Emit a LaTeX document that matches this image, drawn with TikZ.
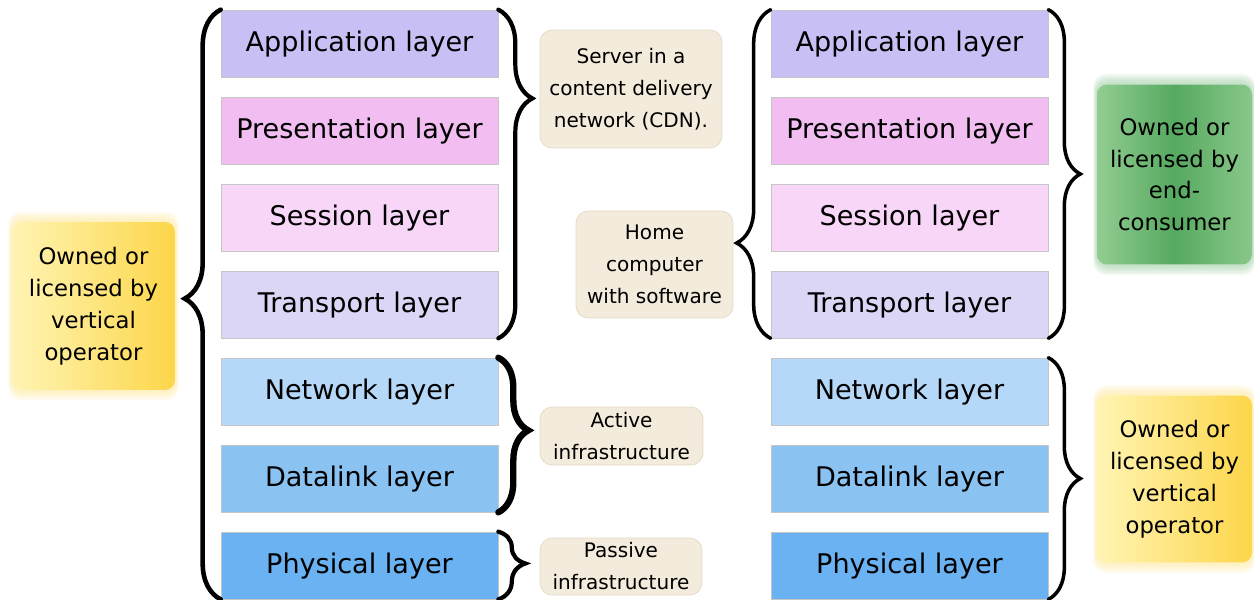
\documentclass[tikz,border=0pt]{standalone}
\usepackage{fontspec}
\setmainfont{DejaVu Sans}
\usetikzlibrary{decorations.pathreplacing,backgrounds}

\definecolor{appcol}{HTML}{C8C0F4}
\definecolor{prescol}{HTML}{F2BEF2}
\definecolor{sesscol}{HTML}{F8D6F8}
\definecolor{transcol}{HTML}{DCD6F6}
\definecolor{netcol}{HTML}{B6D8F8}
\definecolor{linkcol}{HTML}{8AC2F2}
\definecolor{physcol}{HTML}{6AB2F2}
\definecolor{notecol}{HTML}{F3EBDC}
\definecolor{noteline}{HTML}{E2D9C6}
\definecolor{goldlight}{HTML}{FFF4B4}
\definecolor{golddark}{HTML}{FCD64A}
\definecolor{greenlight}{HTML}{92CD92}
\definecolor{greendark}{HTML}{56A960}

\tikzset{layer/.style={draw=gray!45, minimum width=5.54cm, minimum height=1.34cm,
   inner sep=0pt, text height=11.6pt, text depth=2pt, font=\fontsize{15.4}{18}\selectfont},
 note/.style={draw=noteline, fill=notecol, rounded corners=0.24cm, align=center,
   inner sep=0pt, font=\fontsize{11.4}{18.2}\selectfont},
 owner/.style={align=center, inner sep=0pt, rounded corners=0.2cm,
   font=\fontsize{12.95}{18.2}\selectfont},
 brace/.style={decorate, line width=2pt, line cap=round, decoration={brace, #1}},
 brace/.default={},
 }

\begin{document}
\begin{tikzpicture}[x=0.02cm, y=-0.02cm]
    \useasboundingbox (0,0) rectangle (1254,599);
    % the two stacks of layers
    \foreach \txt/\col [count=\i] in {Application/appcol, Presentation/prescol,
        Session/sesscol, Transport/transcol, Network/netcol, Datalink/linkcol, Physical/physcol} {
        \node[layer, fill=\col] (L\i) at (359.5, {43.5+87*(\i-1)}) {\txt\ layer};
        \node[layer, fill=\col] (R\i) at (909.5, {43.5+87*(\i-1)}) {\txt\ layer};
    }

    % notes between the stacks
    \node[note, minimum width=3.64cm, minimum height=2.36cm] (cdn) at (631, 89)
        {Server in a\\content delivery\\network (CDN).};
    \node[note, minimum width=3.14cm, minimum height=2.14cm] (home) at (654.5, 264.5)
        {Home\\computer\\with software};
    \node[note, minimum width=3.26cm, minimum height=1.16cm] (active) at (621.5, 436)
        {Active\\infrastructure};
    \node[note, minimum width=3.24cm, minimum height=1.14cm] (passive) at (621, 566.5)
        {Passive\\infrastructure};

    % owners
    \node[owner, minimum width=3.26cm, minimum height=3.36cm, left color=goldlight, right color=golddark]
        (ownvert) at (93.5, 306) {Owned or\\licensed by\\vertical\\operator};
    \node[owner, minimum width=3.1cm, minimum height=3.6cm, left color=greenlight,
        right color=greenlight!85!greendark, middle color=greendark]
        (ownend) at (1174.5, 174.5) {Owned or\\licensed by\\end-\\consumer};
    \node[owner, minimum width=3.1cm, minimum height=3.34cm, left color=goldlight, right color=golddark]
        (ownvert2) at (1174.5, 479) {Owned or\\licensed by\\vertical\\operator};
    \begin{scope}[on background layer]
        \foreach \n/\c in {ownvert/golddark, ownend/greendark, ownvert2/golddark}
            \foreach \d in {2,4,...,10}
                \fill[\c!70, opacity=0.12, rounded corners=0.25cm]
                    ([shift={(-\d/3,-\d)}]\n.north west) rectangle ([shift={(\d/3,\d)}]\n.south east);
    \end{scope}

    % braces
    \draw[brace={amplitude=0.72cm, aspect=0.51}, line width=2.6pt] (L7.south west) -- (L1.north west);
    \draw[brace={amplitude=0.68cm, aspect=0.27}, line width=2.4pt] (L1.north east) -- (L4.south east);
    \draw[brace={amplitude=0.6cm, aspect=0.47}, line width=3.6pt] (L5.north east) -- (L6.south east);
    \draw[brace={amplitude=0.54cm, aspect=0.47}, line width=2.4pt] (L7.north east) -- (L7.south east);
    \draw[brace={amplitude=0.68cm, aspect=0.29}] (R4.south west) -- (R1.north west);
    \draw[brace={amplitude=0.64cm, aspect=0.5}] (R1.north east) -- (R4.south east);
    \draw[brace={amplitude=0.64cm, aspect=0.5}] (R5.north east) -- (R7.south east);
\end{tikzpicture}
\end{document}
